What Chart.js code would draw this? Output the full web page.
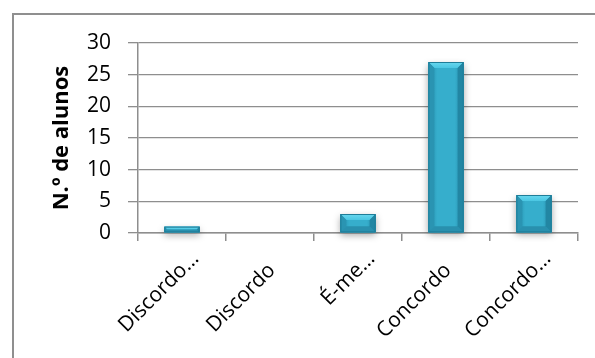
<!DOCTYPE html>
<html>
<head>
<meta charset="utf-8">
<script src="https://cdn.jsdelivr.net/npm/chart.js@4/dist/chart.umd.min.js"></script>
<style>
  html, body { margin: 0; padding: 0; background: #fff; }
  #wrap { position: relative; width: 595px; height: 358px; overflow: hidden; }
  #frame { position: absolute; left: 12px; top: 13px; width: 640px; height: 400px;
           border-left: 2px solid #8f8f8f; border-top: 2px solid #8f8f8f; }
  canvas { position: absolute; left: 0; top: 0; }
</style>
</head>
<body>
<div id="wrap">
  <div id="frame"></div>
  <canvas id="c" width="595" height="358"></canvas>
</div>
<script>
// Respostas dos alunos
const categories = ['Discordo…', 'Discordo', 'É-me…', 'Concordo', 'Concordo…'];
const alunos = [1, 0, 3, 27, 6];
const yTicks = [0, 5, 10, 15, 20, 25, 30];
const yTitle = 'N.º de alunos';

const FONT = '"Open Sans", sans-serif';
const GRID = '#8e8e8e';

// Soft shadow under each bar and a bevelled, gradient face on top of it
const bevelBars = {
  id: 'bevelBars',
  beforeDatasetsDraw(chart) {
    const ctx = chart.ctx;
    const meta = chart.getDatasetMeta(0);
    ctx.save();
    meta.data.forEach((bar, i) => {
      if (!alunos[i]) return;
      const { x, y, base, width } = bar.getProps(['x', 'y', 'base', 'width'], true);
      ctx.shadowColor = 'rgba(0,0,0,0.35)';
      ctx.shadowBlur = 7;
      ctx.shadowOffsetY = 3;
      ctx.fillStyle = '#2a9ab9';
      ctx.fillRect(x - width / 2, y, width, base - y);
    });
    ctx.restore();
  },
  afterDatasetsDraw(chart) {
    const ctx = chart.ctx;
    const meta = chart.getDatasetMeta(0);
    ctx.save();
    meta.data.forEach((bar, i) => {
      if (!alunos[i]) return;
      const { x, y, base, width } = bar.getProps(['x', 'y', 'base', 'width'], true);
      const l = x - width / 2, r = x + width / 2, t = y, b = base;
      const h = b - t;
      const bv = Math.min(6, h / 2, width / 2);

      // face
      const g = ctx.createLinearGradient(l, 0, r, 0);
      g.addColorStop(0, '#2489a7');
      g.addColorStop(0.25, '#36aecc');
      g.addColorStop(0.75, '#36aecc');
      g.addColorStop(1, '#2489a7');
      ctx.fillStyle = g;
      ctx.fillRect(l, t, width, h);

      const poly = (pts, fill) => {
        ctx.beginPath();
        ctx.moveTo(pts[0][0], pts[0][1]);
        for (let k = 1; k < pts.length; k++) ctx.lineTo(pts[k][0], pts[k][1]);
        ctx.closePath();
        ctx.fillStyle = fill;
        ctx.fill();
      };
      // top bevel
      const gt = ctx.createLinearGradient(0, t, 0, t + bv);
      gt.addColorStop(0, '#6ad8ef');
      gt.addColorStop(1, '#4ac6e2');
      poly([[l, t], [r, t], [r - bv, t + bv], [l + bv, t + bv]], gt);
      // bottom bevel
      poly([[l, b], [r, b], [r - bv, b - bv], [l + bv, b - bv]], '#2990ae');
      // sides
      poly([[l, t], [l + bv, t + bv], [l + bv, b - bv], [l, b]], '#2a94b2');
      poly([[r, t], [r - bv, t + bv], [r - bv, b - bv], [r, b]], '#2286a3');

      ctx.strokeStyle = '#1f7d98';
      ctx.lineWidth = 1;
      ctx.strokeRect(l + 0.5, t + 0.5, width - 1, h - 1);
    });
    ctx.restore();
  }
};

// Category labels at 45°, each anchored at the end of its word so that a
// trailing ellipsis runs past the tick
const xLabels = {
  id: 'xLabels',
  afterDraw(chart) {
    const sx = chart.scales.x;
    const ctx = chart.ctx;
    ctx.save();
    ctx.font = '21px ' + FONT;
    ctx.fillStyle = '#000';
    ctx.textBaseline = 'middle';
    ctx.textAlign = 'left';
    categories.forEach((lab, i) => {
      const word = lab.replace(/…$/, '');
      const px = sx.getPixelForValue(i);
      ctx.save();
      ctx.translate(px + 2, sx.top + 34);
      ctx.rotate(-Math.PI / 4);
      ctx.fillText(lab, -ctx.measureText(word).width, 0);
      ctx.restore();
    });
    ctx.restore();
  }
};

new Chart(document.getElementById('c'), {
  type: 'bar',
  data: {
    labels: categories,
    datasets: [{
      data: alunos,
      backgroundColor: '#33a9c9',
      borderWidth: 0,
      barPercentage: 0.4,
      categoryPercentage: 1.0
    }]
  },
  options: {
    responsive: false,
    animation: false,
    devicePixelRatio: 1,
    layout: { padding: { left: 49, top: 43, right: 17, bottom: 0 } },
    plugins: { legend: { display: false }, tooltip: { enabled: false } },
    scales: {
      x: {
        afterFit: s => { s.height = 125; },
        grid: { drawOnChartArea: false, drawTicks: true, tickLength: 8, color: GRID, lineWidth: 1.5 },
        border: { display: true, color: GRID, width: 1.5 },
        ticks: { display: false, autoSkip: false }
      },
      y: {
        min: 0, max: 30,
        afterFit: s => { s.width = 89; },
        afterBuildTicks: s => { s.ticks = yTicks.map(v => ({ value: v })); },
        grid: { color: GRID, lineWidth: 1.3, tickLength: 10 },
        border: { display: true, color: GRID, width: 1.5 },
        ticks: { color: '#000', padding: 17, font: { family: FONT, size: 21 } },
        title: {
          display: true, text: yTitle, color: '#000', padding: 0,
          font: { family: FONT, size: 22, weight: 'bold' }
        }
      }
    }
  },
  plugins: [bevelBars, xLabels]
});
</script>
</body>
</html>
